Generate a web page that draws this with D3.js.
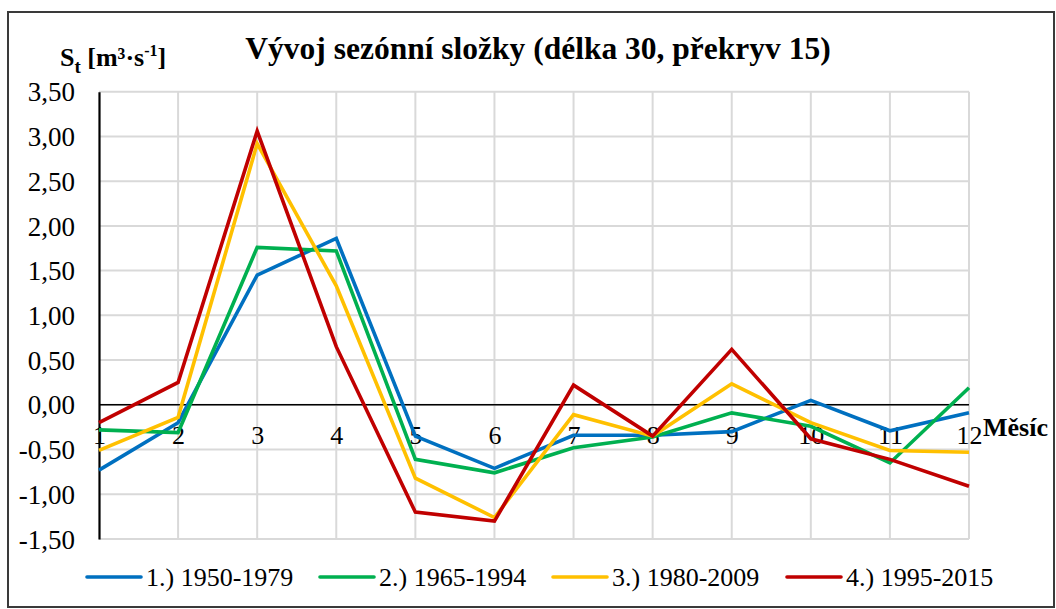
<!DOCTYPE html>
<html>
<head>
<meta charset="utf-8">
<script src="https://cdn.jsdelivr.net/npm/d3@7"></script>
<style>
  html, body { margin: 0; padding: 0; background: #fff; }
  svg text { font-family: "Liberation Serif", "Times New Roman", serif; fill: #000; }
</style>
</head>
<body>
<svg id="chart" width="1056" height="609"></svg>
<script>
// Months on the x axis
const months = [1, 2, 3, 4, 5, 6, 7, 8, 9, 10, 11, 12];

// Seasonal component per window (m3/s)
const s1950_1979 = [-0.73, -0.20, 1.45, 1.86, -0.35, -0.71, -0.34, -0.34, -0.30, 0.05, -0.29, -0.09];
const s1965_1994 = [-0.28, -0.31, 1.76, 1.72, -0.61, -0.76, -0.48, -0.36, -0.09, -0.24, -0.65, 0.19];
const s1980_2009 = [-0.51, -0.14, 2.92, 1.33, -0.82, -1.26, -0.11, -0.35, 0.235, -0.20, -0.51, -0.53];
const s1995_2015 = [-0.20, 0.25, 3.06, 0.65, -1.20, -1.30, 0.22, -0.35, 0.62, -0.38, -0.61, -0.91];

const seriesNames = ["1.) 1950-1979", "2.) 1965-1994", "3.) 1980-2009", "4.) 1995-2015"];
const seriesColors = ["#0070C0", "#00B050", "#FFC000", "#C00000"];
const yTicks = [3.5, 3.0, 2.5, 2.0, 1.5, 1.0, 0.5, 0.0, -0.5, -1.0, -1.5];

const seriesData = [s1950_1979, s1965_1994, s1980_2009, s1995_2015];

const svg = d3.select("#chart");

// Outer frame
svg.append("rect")
  .attr("x", 8).attr("y", 12)
  .attr("width", 1046).attr("height", 595)
  .attr("fill", "#fff")
  .attr("stroke", "#3a3a3a").attr("stroke-width", 2);

const x = d3.scalePoint().domain(months).range([99, 969]);
const y = d3.scaleLinear().domain([-1.5, 3.5]).range([539, 91.7]);

// Gridlines
const grid = svg.append("g");
grid.selectAll("line.h").data(yTicks).join("line")
  .attr("class", "h")
  .attr("x1", x(1)).attr("x2", x(12))
  .attr("y1", d => y(d)).attr("y2", d => y(d))
  .attr("stroke", "#d9d9d9").attr("stroke-width", 2);
grid.selectAll("line.v").data(months.slice(1)).join("line")
  .attr("class", "v")
  .attr("x1", d => x(d)).attr("x2", d => x(d))
  .attr("y1", y(3.5)).attr("y2", y(-1.5))
  .attr("stroke", "#d9d9d9").attr("stroke-width", 2);

// Y axis
const yAxis = d3.axisLeft(y)
  .tickValues(yTicks)
  .tickSize(0)
  .tickPadding(24)
  .tickFormat(d => d3.format(".2f")(d).replace(".", ",").replace("−", "-"));
const yg = svg.append("g").attr("transform", `translate(${x(1)},0)`).call(yAxis);
yg.select(".domain").attr("stroke", "#000").attr("stroke-width", 2.2);
yg.selectAll(".tick text")
  .attr("font-size", 27)
  .attr("font-family", "Liberation Serif, serif")
  .attr("dy", "0.34em");

// Zero line
svg.append("line")
  .attr("x1", x(1)).attr("x2", x(12))
  .attr("y1", y(0)).attr("y2", y(0))
  .attr("stroke", "#000").attr("stroke-width", 1.6);

// Month labels below the zero line
const xAxis = d3.axisBottom(x).tickSize(0).tickPadding(21);
const xg = svg.append("g").attr("transform", `translate(0,${y(0)})`).call(xAxis);
xg.select(".domain").remove();
xg.selectAll(".tick text")
  .attr("font-size", 26)
  .attr("font-family", "Liberation Serif, serif");

svg.append("text")
  .attr("x", 983).attr("y", 436)
  .attr("font-size", 26).attr("font-weight", "bold")
  .text("Měsíc");

// Series lines
const line = d3.line()
  .x((d, i) => x(months[i]))
  .y(d => y(d));
svg.append("g").selectAll("path").data(seriesData).join("path")
  .attr("d", d => line(d))
  .attr("fill", "none")
  .attr("stroke", (d, i) => seriesColors[i])
  .attr("stroke-width", 3.6)
  .attr("stroke-linejoin", "miter");

// Title
svg.append("text")
  .attr("x", 538).attr("y", 59)
  .attr("text-anchor", "middle")
  .attr("font-size", 31.5).attr("font-weight", "bold")
  .text("Vývoj sezónní složky (délka 30, překryv 15)");

// Y axis unit
const yl = svg.append("text")
  .attr("x", 60).attr("y", 66)
  .attr("font-size", 26).attr("font-weight", "bold");
yl.append("tspan").text("S");
yl.append("tspan").attr("font-size", 19).attr("dy", 7).text("t");
yl.append("tspan").attr("dy", -7).text(" [m³·s");
yl.append("tspan").attr("font-size", 16).attr("dy", -10).text("-1");
yl.append("tspan").attr("dy", 10).text("]");

// Legend
const legendX = [87, 320, 553, 787];
const lg = svg.append("g").selectAll("g").data(seriesNames).join("g")
  .attr("transform", (d, i) => `translate(${legendX[i]},577)`);
lg.append("line")
  .attr("x1", 0).attr("x2", 54)
  .attr("stroke", (d, i) => seriesColors[i])
  .attr("stroke-width", 3.6).attr("stroke-linecap", "round");
lg.append("text")
  .attr("x", 59).attr("y", 9)
  .attr("font-size", 26)
  .text(d => d);
</script>
</body>
</html>
